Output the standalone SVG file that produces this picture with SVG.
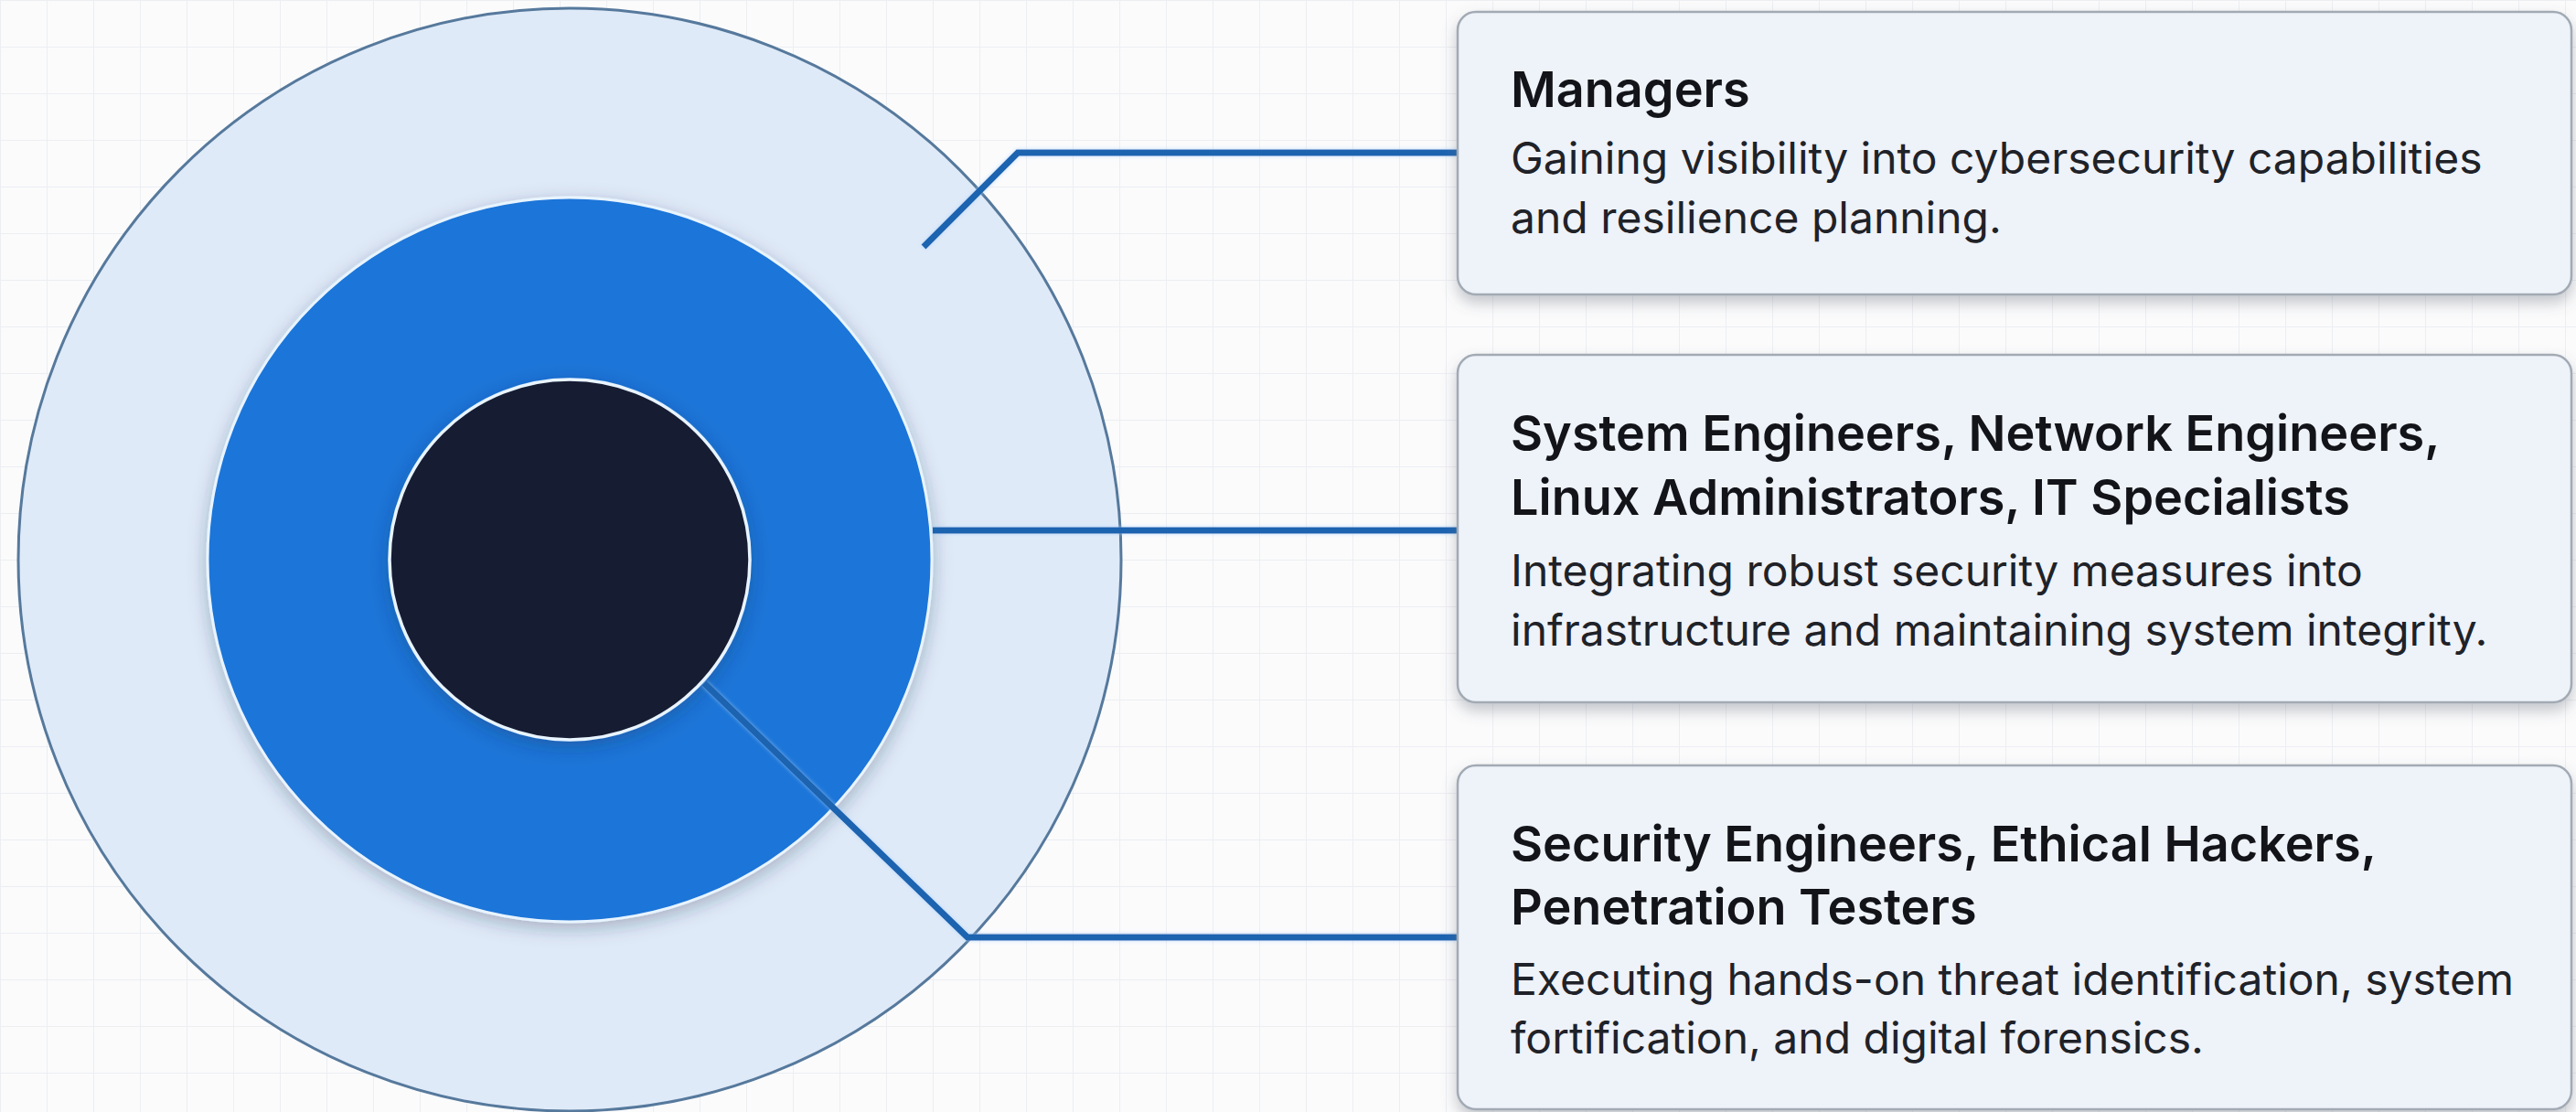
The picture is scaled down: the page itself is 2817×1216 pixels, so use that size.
<svg xmlns="http://www.w3.org/2000/svg" width="2817" height="1216" viewBox="0 0 2817 1216">
<defs>
<pattern id="grid" width="51" height="51" patternUnits="userSpaceOnUse">
<path d="M51 0 L0 0 0 51" fill="none" stroke="#eceef2" stroke-width="2"/>
</pattern>
<filter id="boxShadow" x="-5%" y="-10%" width="110%" height="130%">
<feDropShadow dx="0" dy="8" stdDeviation="8" flood-color="#5a6470" flood-opacity="0.35"/>
</filter>
<filter id="ringShadow" x="-10%" y="-10%" width="120%" height="120%">
<feDropShadow dx="0" dy="6" stdDeviation="10" flood-color="#1b2a44" flood-opacity="0.3"/>
</filter>
<filter id="glow" x="-5%" y="-5%" width="110%" height="110%">
<feDropShadow dx="0" dy="0" stdDeviation="2" flood-color="#9fd0ff" flood-opacity="0.7"/>
</filter>
<style>
.box{fill:#eef2f9;stroke:#a2aab4;stroke-width:2.5;filter:url(#boxShadow)}
.title{font-family:Inter,"Liberation Sans",sans-serif;font-weight:600;font-size:54px;fill:#121419}
.desc{font-family:Inter,"Liberation Sans",sans-serif;font-weight:400;font-size:48px;fill:#1f2228}
.conn{fill:none;stroke:#1b63b0;stroke-width:7;stroke-linejoin:miter}
</style>
</defs>
<rect width="2817" height="1216" fill="#fbfbfc"/>
<rect width="2817" height="1216" fill="url(#grid)"/>
<g id="rings">
<circle id="outer-ring" cx="623" cy="612" r="603" fill="#dfeaf8" stroke="#56799c" stroke-width="3"/>
<circle id="middle-ring" cx="623" cy="612" r="396" fill="#1a74d8" stroke="#e8f4ff" stroke-width="3" filter="url(#ringShadow)"/>
<circle id="inner-core" cx="623" cy="612" r="197" fill="#181d33" stroke="#e8f4ff" stroke-width="3.5" filter="url(#ringShadow)"/>
</g>
<g id="connectors" filter="url(#glow)">
<path class="conn" d="M1010 270 L1113 167 L1594 167"/>
<path class="conn" d="M1020 580 L1594 580"/>
<path class="conn" d="M770 747 L1058 1025 L1594 1025" stroke="#17599f"/>
</g>
<g id="node-managers">
<rect class="box" x="1594" y="13" width="1218" height="309" rx="20"/>
<text class="title" x="1652" y="117">Managers</text>
<text class="desc" x="1652" y="190">Gaining visibility into cybersecurity capabilities</text>
<text class="desc" x="1652" y="255">and resilience planning.</text>
</g>
<g id="node-engineers">
<rect class="box" x="1594" y="388" width="1218" height="380" rx="20"/>
<text class="title" x="1652" y="493">System Engineers, Network Engineers,</text>
<text class="title" x="1652" y="563">Linux Administrators, IT Specialists</text>
<text class="desc" x="1652" y="641">Integrating robust security measures into</text>
<text class="desc" x="1652" y="706">infrastructure and maintaining system integrity.</text>
</g>
<g id="node-security">
<rect class="box" x="1594" y="837" width="1218" height="376" rx="20"/>
<text class="title" x="1652" y="942">Security Engineers, Ethical Hackers,</text>
<text class="title" x="1652" y="1011">Penetration Testers</text>
<text class="desc" x="1652" y="1088">Executing hands-on threat identification, system</text>
<text class="desc" x="1652" y="1152">fortification, and digital forensics.</text>
</g>
</svg>
